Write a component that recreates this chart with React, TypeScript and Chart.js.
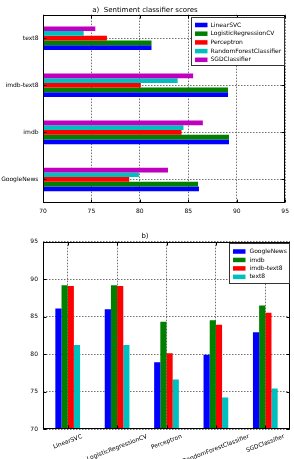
import React, { useEffect, useRef } from "react";
import { Chart, registerables } from "chart.js";

Chart.register(...registerables);

const FONT = "DejaVu Sans";

// Corpora the embeddings were trained on
const corpora = ["GoogleNews", "imdb", "imdb-text8", "text8"];

// Classifiers evaluated on each corpus
const classifiers = [
  "LinearSVC",
  "LogisticRegressionCV",
  "Perceptron",
  "RandomForestClassifier",
  "SGDClassifier",
];

// Accuracy (%) per classifier, in the order of `corpora`
const linearSVC = [86.1, 89.2, 89.1, 81.2];
const logisticRegressionCV = [86.0, 89.2, 89.1, 81.2];
const perceptron = [78.9, 84.3, 80.1, 76.6];
const randomForest = [79.9, 84.5, 83.9, 74.2];
const sgdClassifier = [82.9, 86.5, 85.5, 75.4];

const scoreTicks = [70, 75, 80, 85, 90, 95];

const classifierColors = ["#0000ff", "#007f00", "#ff0000", "#00bfbf", "#bf00bf"];
const corpusColors = ["#0000ff", "#007f00", "#ff0000", "#00bfbf"];

const scoresByClassifier = [linearSVC, logisticRegressionCV, perceptron, randomForest, sgdClassifier];

const GRID_COLOR = "#707070";
const GRID_DASH = [1.5, 1.5];

// Black box around the plot area with short inward tick marks on every side
const framePlugin = {
  id: "frame",
  afterDatasetsDraw(chart: any) {
    const { ctx, chartArea } = chart;
    const l = Math.round(chartArea.left) + 0.5;
    const r = Math.round(chartArea.right) - 0.5;
    const t = Math.round(chartArea.top) + 0.5;
    const b = Math.round(chartArea.bottom) - 0.5;
    ctx.save();
    ctx.strokeStyle = "#000";
    ctx.lineWidth = 1;
    ctx.setLineDash([]);
    ctx.strokeRect(l, t, r - l, b - t);
    const len = 3;
    ctx.beginPath();
    const xs = chart.scales.x;
    xs.ticks.forEach((_: any, i: number) => {
      const px = Math.round(xs.getPixelForTick(i)) + 0.5;
      ctx.moveTo(px, b);
      ctx.lineTo(px, b - len);
      ctx.moveTo(px, t);
      ctx.lineTo(px, t + len);
    });
    const ys = chart.scales.y;
    ys.ticks.forEach((_: any, i: number) => {
      const py = Math.round(ys.getPixelForTick(i)) + 0.5;
      ctx.moveTo(l, py);
      ctx.lineTo(l + len, py);
      ctx.moveTo(r, py);
      ctx.lineTo(r - len, py);
    });
    ctx.stroke();
    ctx.restore();
  },
};

// Framed legend placed inside the upper right corner of the plot
const boxLegendPlugin = {
  id: "boxLegend",
  afterDraw(chart: any, _args: any, opts: any) {
    const { ctx, chartArea } = chart;
    const sets = chart.data.datasets.map((d: any) => ({ label: d.label, color: d.backgroundColor }));
    const items = opts.reverse ? sets.slice().reverse() : sets;
    ctx.save();
    ctx.font = `6px "${FONT}"`;
    const textW = Math.max(...items.map((it: any) => ctx.measureText(it.label).width));
    const w = opts.padLeft + opts.swatchW + opts.gap + textW + opts.padRight;
    const h = opts.padTop + opts.rowH * (items.length - 1) + opts.padBottom;
    const x = Math.round(chartArea.right - opts.right - w) + 0.5;
    const y = Math.round(chartArea.top + opts.top) + 0.5;
    ctx.fillStyle = "#fff";
    ctx.fillRect(x, y, w, h);
    ctx.strokeStyle = "#333";
    ctx.lineWidth = 1;
    ctx.strokeRect(x, y, Math.round(w), Math.round(h));
    items.forEach((it: any, i: number) => {
      const cy = y + opts.padTop + i * opts.rowH;
      ctx.fillStyle = it.color;
      ctx.fillRect(x + opts.padLeft, cy - opts.swatchH / 2, opts.swatchW, opts.swatchH);
      ctx.fillStyle = "#000";
      ctx.textAlign = "left";
      ctx.textBaseline = "middle";
      ctx.fillText(it.label, x + opts.padLeft + opts.swatchW + opts.gap, cy);
    });
    ctx.restore();
  },
};

// Category names under the bars, slanted and centred on their ticks
const slantedLabelsPlugin = {
  id: "slantedLabels",
  afterDraw(chart: any, _args: any, opts: any) {
    const { ctx, chartArea } = chart;
    const scale = chart.scales.x;
    const a = (opts.angle * Math.PI) / 180;
    ctx.save();
    ctx.font = `6px "${FONT}"`;
    ctx.fillStyle = "#000";
    ctx.textAlign = "center";
    ctx.textBaseline = "middle";
    chart.data.labels.forEach((lab: string, i: number) => {
      const x = scale.getPixelForTick(i);
      const w = ctx.measureText(lab).width;
      const bh = w * Math.sin(a) + 7 * Math.cos(a);
      const cy = chartArea.bottom + opts.pad + bh / 2;
      ctx.save();
      ctx.translate(x, cy);
      ctx.rotate(-a);
      ctx.fillText(lab, 0, 0);
      ctx.restore();
    });
    ctx.restore();
  },
};

export default function App() {
  const topRef = useRef<HTMLCanvasElement>(null);
  const bottomRef = useRef<HTMLCanvasElement>(null);

  useEffect(() => {
    Chart.defaults.font.family = FONT;

    // a) horizontal bars: one group per corpus, text8 at the top
    const topLabels = corpora.slice().reverse();
    const topDatasets = classifiers
      .map((name, k) => ({
        label: name,
        data: scoresByClassifier[k].slice().reverse(),
        backgroundColor: classifierColors[k],
        borderWidth: 0,
        categoryPercentage: 0.5,
        barPercentage: 1.0,
      }))
      .reverse();

    const top = new Chart(topRef.current!, {
      type: "bar",
      data: { labels: topLabels, datasets: topDatasets },
      options: {
        indexAxis: "y",
        animation: false,
        responsive: false,
        events: [],
        layout: { padding: { left: 0, right: 4, top: 0, bottom: 0 } },
        scales: {
          x: {
            type: "linear",
            min: scoreTicks[0],
            max: scoreTicks[scoreTicks.length - 1],
            afterBuildTicks: (s: any) => {
              s.ticks = scoreTicks.map((v) => ({ value: v }));
            },
            afterFit: (s: any) => {
              s.height = 17;
            },
            ticks: { font: { size: 6 }, color: "#000", padding: 5 },
            grid: { color: GRID_COLOR, lineWidth: 1, drawTicks: false },
            border: { display: false, dash: GRID_DASH },
          },
          y: {
            type: "category",
            afterFit: (s: any) => {
              s.width = 43;
            },
            ticks: { font: { size: 6 }, color: "#000", padding: 4.5 },
            grid: { color: GRID_COLOR, lineWidth: 1, drawTicks: false, offset: false },
            border: { display: false, dash: GRID_DASH },
          },
        },
        plugins: {
          legend: { display: false },
          tooltip: { enabled: false },
          title: {
            display: true,
            text: "a)  Sentiment classifier scores",
            color: "#000",
            font: { size: 7, weight: "normal", family: FONT },
            padding: { top: 6, bottom: 0.2 },
          },
          boxLegend: {
            reverse: true,
            right: 1,
            top: 2,
            padLeft: 3.5,
            swatchW: 12.5,
            swatchH: 4.5,
            gap: 3,
            padRight: 3.5,
            padTop: 7.5,
            rowH: 8.7,
            padBottom: 6,
          },
        } as any,
      },
      plugins: [framePlugin, boxLegendPlugin],
    } as any);

    // b) vertical bars: one group per classifier, one bar per corpus
    const bottomDatasets = corpora.map((name, c) => ({
      label: name,
      data: scoresByClassifier.map((row) => row[c]),
      backgroundColor: corpusColors[c],
      borderWidth: 0,
      categoryPercentage: 0.5,
      barPercentage: 1.0,
    }));

    const bottom = new Chart(bottomRef.current!, {
      type: "bar",
      data: { labels: classifiers, datasets: bottomDatasets },
      options: {
        animation: false,
        responsive: false,
        events: [],
        layout: { padding: { left: 0, right: 4, top: 0, bottom: 0 } },
        scales: {
          x: {
            type: "category",
            afterFit: (s: any) => {
              s.height = 30;
            },
            ticks: { display: false },
            grid: { color: GRID_COLOR, lineWidth: 1, drawTicks: false, offset: false },
            border: { display: false, dash: GRID_DASH },
          },
          y: {
            type: "linear",
            min: scoreTicks[0],
            max: scoreTicks[scoreTicks.length - 1],
            afterBuildTicks: (s: any) => {
              s.ticks = scoreTicks.map((v) => ({ value: v }));
            },
            afterFit: (s: any) => {
              s.width = 43;
            },
            ticks: { font: { size: 6 }, color: "#000", padding: 5 },
            grid: { color: GRID_COLOR, lineWidth: 1, drawTicks: false },
            border: { display: false, dash: GRID_DASH },
          },
        },
        plugins: {
          legend: { display: false },
          tooltip: { enabled: false },
          title: {
            display: true,
            text: "b)",
            color: "#000",
            font: { size: 7, weight: "normal", family: FONT },
            padding: { top: 12, bottom: 1.3 },
          },
          boxLegend: {
            reverse: false,
            right: 1,
            top: 1.5,
            padLeft: 3.5,
            swatchW: 12.5,
            swatchH: 4.5,
            gap: 4,
            padRight: 3,
            padTop: 8,
            rowH: 8.45,
            padBottom: 7,
          },
          slantedLabels: { angle: 21, pad: 4 },
        } as any,
      },
      plugins: [framePlugin, boxLegendPlugin, slantedLabelsPlugin],
    } as any);

    return () => {
      top.destroy();
      bottom.destroy();
    };
  }, []);

  return (
    <div style={{ position: "absolute", left: 0, top: 0, width: 294, height: 459, background: "#fff" }}>
      <canvas ref={topRef} width={294} height={220} style={{ display: "block", width: 294, height: 220 }} />
      <canvas ref={bottomRef} width={294} height={239} style={{ display: "block", width: 294, height: 239 }} />
    </div>
  );
}
